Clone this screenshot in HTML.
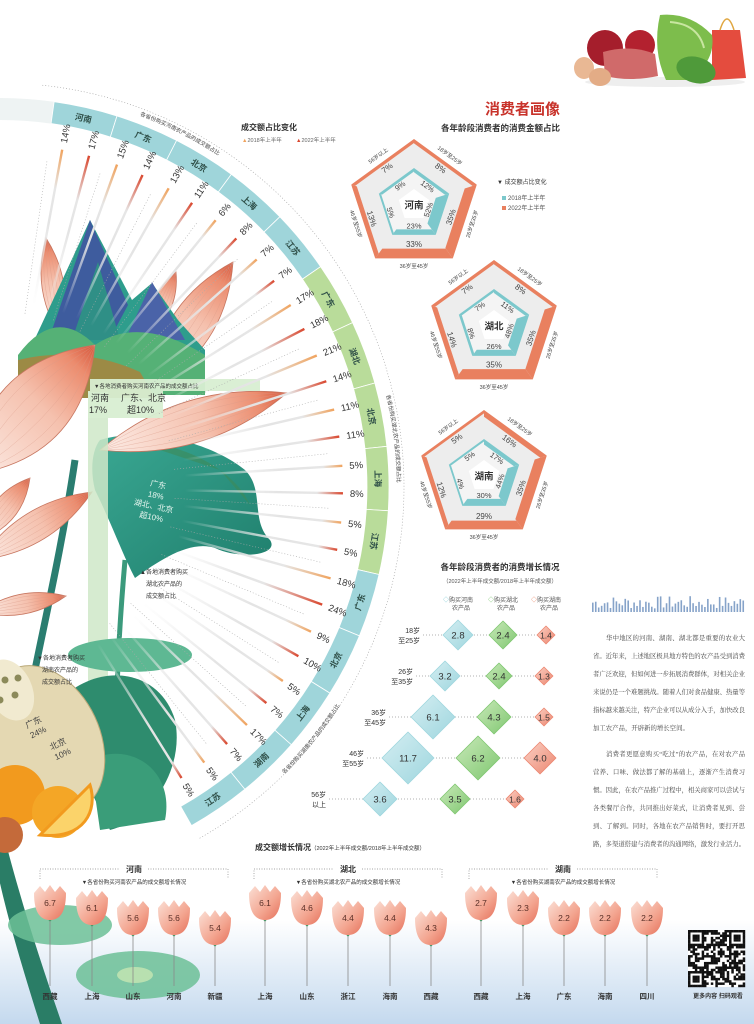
<!DOCTYPE html>
<html><head><meta charset="utf-8">
<style>
html,body{margin:0;padding:0;background:#fff;}
svg{display:block;font-family:"Liberation Sans","Noto Sans CJK SC",sans-serif;}
</style></head>
<body>
<svg id="s" width="754" height="1024" viewBox="0 0 754 1024" xmlns="http://www.w3.org/2000/svg">
<defs>
 <linearGradient id="bg" x1="0" y1="0" x2="0" y2="1"><stop offset="0" stop-color="#ffffff"/><stop offset="1" stop-color="#c4d9ee"/></linearGradient>
 <linearGradient id="tulip" x1="0" y1="0" x2="1" y2="1"><stop offset="0" stop-color="#fbe0d6"/><stop offset="0.6" stop-color="#f3a48f"/><stop offset="1" stop-color="#e5705a"/></linearGradient>
 <linearGradient id="leafg" x1="0" y1="0" x2="1" y2="1"><stop offset="0" stop-color="#3aa893"/><stop offset="1" stop-color="#1f7e6c"/></linearGradient>
</defs>
<rect x="0" y="920" width="754" height="104" fill="url(#bg)"/>
<g id="illus"></g>
<g id="arc"></g>
<g id="pent"></g>
<g id="dia"></g>
<g id="bottom"></g>

<text x="560" y="114" text-anchor="end" font-size="15" font-weight="bold" fill="#c8322a">消费者画像</text>
<text x="560" y="131" text-anchor="end" font-size="8.5" font-weight="bold" fill="#333">各年龄段消费者的消费金额占比</text>
<text x="497" y="184" font-size="6" fill="#333">▼ 成交额占比变化</text>
<rect x="502" y="196" width="4" height="4" fill="#7cc8cc"/><text x="508" y="200" font-size="6" fill="#555">2018年上半年</text>
<rect x="502" y="206" width="4" height="4" fill="#e9805f"/><text x="508" y="210" font-size="6" fill="#555">2022年上半年</text>

<text x="241" y="130" font-size="8" font-weight="bold" fill="#333">成交额占比变化</text>
<text x="242" y="142" font-size="5.5" fill="#666"><tspan fill="#f0a35e">▲</tspan>2018年上半年</text>
<text x="296" y="142" font-size="5.5" fill="#666"><tspan fill="#d9472e">▲</tspan>2022年上半年</text>

<text x="500" y="570" text-anchor="middle" font-size="8.5" font-weight="bold" fill="#333">各年龄段消费者的消费增长情况</text>
<text x="500" y="583" text-anchor="middle" font-size="5.5" fill="#555">（2022年上半年成交额/2018年上半年成交额）</text>
<g font-size="6" fill="#555" text-anchor="middle">
 <text x="458" y="602"><tspan fill="#7cc8d2">◇</tspan>购买河南</text><text x="461" y="610">农产品</text>
 <text x="503" y="602"><tspan fill="#6fbf62">◇</tspan>购买湖北</text><text x="506" y="610">农产品</text>
 <text x="546" y="602"><tspan fill="#e9805f">◇</tspan>购买湖南</text><text x="549" y="610">农产品</text>
</g>

<g font-family="Liberation Serif,'Noto Serif CJK SC',serif" font-size="6.4" fill="#444" lengthAdjust="spacing">
 <text x="606" y="640" textLength="139" lengthAdjust="spacing">华中地区的河南、湖南、湖北都是重要的农业大</text>
 <text x="593" y="658" textLength="152" lengthAdjust="spacing">省。近年来，上述地区极具地方特色的农产品受到消费</text>
 <text x="593" y="676" textLength="152" lengthAdjust="spacing">者广泛欢迎，但如何进一步拓展消费群体，对相关企业</text>
 <text x="593" y="694" textLength="152" lengthAdjust="spacing">来说仍是一个难题挑战。随着人们对食品健康、热量等</text>
 <text x="593" y="712" textLength="152" lengthAdjust="spacing">指标越来越关注，特产企业可以从成分入手，加快改良</text>
 <text x="593" y="730">加工农产品，开辟新的增长空间。</text>
 <text x="606" y="756" textLength="139" lengthAdjust="spacing">消费者更愿意购买“吃过”的农产品，在对农产品</text>
 <text x="593" y="774" textLength="152" lengthAdjust="spacing">营养、口味、做法都了解的基础上，逐渐产生消费习</text>
 <text x="593" y="792" textLength="152" lengthAdjust="spacing">惯。因此，在农产品推广过程中，相关商家可以尝试与</text>
 <text x="593" y="810" textLength="152" lengthAdjust="spacing">各类餐厅合作，共同推出好菜式，让消费者见到、尝</text>
 <text x="593" y="828" textLength="152" lengthAdjust="spacing">到、了解到。同时，各地在农产品销售时，要打开思</text>
 <text x="593" y="846" textLength="152" lengthAdjust="spacing">路，多渠道搭建与消费者的沟通网络，激发行业活力。</text>
</g>

<text x="255" y="850" font-size="8" font-weight="bold" fill="#333">成交额增长情况<tspan font-size="5.5" font-weight="normal">（2022年上半年成交额/2018年上半年成交额）</tspan></text>
<text x="718" y="998" text-anchor="middle" font-size="6" font-weight="bold" fill="#333">更多内容 扫码观看</text>

<g font-size="6" fill="#333">
 <text x="140" y="574">▲各地消费者购买</text><text x="146" y="586">湖北农产品的</text><text x="146" y="598">成交额占比</text>
 <text x="37" y="660">▼各地消费者购买</text><text x="42" y="672">湖南农产品的</text><text x="42" y="684">成交额占比</text>
</g>
</svg>
<script>
const NS='http://www.w3.org/2000/svg';
function el(tag,attrs,parent,text){const e=document.createElementNS(NS,tag);for(const k in attrs)e.setAttribute(k,attrs[k]);if(text!=null)e.textContent=text;(parent||document.getElementById('s')).appendChild(e);return e;}
const defs=document.querySelector('defs');
let gid=0;
function lgrad(x1,y1,x2,y2,stops){const id='g'+(gid++);const g=el('linearGradient',{id:id,gradientUnits:'userSpaceOnUse',x1:x1,y1:y1,x2:x2,y2:y2},defs);stops.forEach(s=>el('stop',{offset:s[0],'stop-color':s[1],'stop-opacity':s[2]==null?1:s[2]},g));return 'url(#'+id+')';}
const rad=d=>d*Math.PI/180;

const IL=document.getElementById('illus');
function petal(bx,by,tx,ty,w,p){
 const mx=(bx+tx)/2,my=(by+ty)/2,dx=tx-bx,dy=ty-by,L=Math.hypot(dx,dy),nx=-dy/L,ny=dx/L;
 const c1x=mx+nx*w,c1y=my+ny*w,c2x=mx-nx*w,c2y=my-ny*w;
 const f=lgrad(bx,by,tx,ty,[[0,'#fcece6'],[0.55,'#f5c1ae'],[0.85,'#ec8c6e'],[1,'#d6553a']]);
 el('path',{d:`M${bx},${by} Q${c1x},${c1y} ${tx},${ty} Q${c2x},${c2y} ${bx},${by}Z`,fill:f,stroke:'#c77660','stroke-width':0.8},p||IL);
 for(let k=-2;k<=2;k++){el('path',{d:`M${bx},${by} Q${mx+nx*w*k*0.35},${my+ny*w*k*0.35} ${tx},${ty}`,fill:'none',stroke:'#d99a88','stroke-width':0.4,opacity:0.7},p||IL);}
}
petal(60,335,46,238,22);
petal(150,335,176,272,18);
petal(150,390,233,262,42);
el('path',{d:'M25,360 L60,285 L90,220 L112,262 L132,300 L152,283 L178,320 L205,350 L205,390 L25,390Z',fill:'#2e9d8c'},IL);
el('path',{d:'M52,330 L90,220 L128,305 L112,335Z',fill:'#3e5c9e'},IL);
el('path',{d:'M72,340 L98,262 L120,340Z',fill:'#2f8f86'},IL);
el('path',{d:'M125,340 L152,282 L185,340Z',fill:'#4a63a8'},IL);
el('path',{d:'M18,355 Q55,305 95,345 Q140,315 205,355 L205,395 L18,395Z',fill:'#55b176'},IL);
el('path',{d:'M18,360 Q80,345 140,372 L155,398 L18,398Z',fill:'#9c8a45'},IL);
el('path',{d:'M75,460 C60,560 40,640 25,720',fill:'none',stroke:'#2a7d70','stroke-width':7},IL);
el('path',{d:'M125,560 C118,640 114,720 118,800',fill:'none',stroke:'#3b9a7c','stroke-width':5},IL);
el('path',{d:'M0,820 C20,900 40,960 62,1024 L40,1024 C20,960 5,910 -5,860Z',fill:'#2a7d66'},IL);
el('path',{d:'M100,440 C150,425 215,445 245,470 C265,490 250,520 270,540 C280,555 240,560 215,548 C190,540 160,560 135,578 C125,560 110,520 95,490 C90,470 92,450 100,440Z',fill:'url(#leafg)'},IL);
el('path',{d:'M130,440 C200,445 240,480 250,505 L220,470Z',fill:'#3d8a58',opacity:0.6},IL);
petal(-30,475,95,345,70);
petal(100,450,287,393,42);
petal(-20,560,92,492,30);
petal(-20,540,30,478,24);
petal(-20,612,66,596,20);
el('rect',{x:88,y:392,width:20,height:330,fill:'#cfe8c8',opacity:0.85},IL);
el('rect',{x:90,y:379,width:170,height:12,fill:'#d8eed2',opacity:0.95},IL);
el('rect',{x:88,y:391,width:75,height:27,fill:'#d8eed2',opacity:0.95},IL);
el('text',{x:94,y:388,'font-size':5.5,fill:'#333'},IL,'▼各地消费者购买河南农产品的成交额占比');
el('text',{x:91,y:401,'font-size':9,fill:'#333'},IL,'河南');
el('text',{x:89,y:413,'font-size':9,fill:'#333'},IL,'17%');
el('text',{x:121,y:401,'font-size':9,fill:'#333'},IL,'广东、北京');
el('text',{x:127,y:413,'font-size':9,fill:'#333'},IL,'超10%');
const lt=el('g',{transform:'rotate(12 160 500)','font-size':8,fill:'#e8f6f0','text-anchor':'middle'},IL);
el('text',{x:155,y:488},lt,'广东');el('text',{x:155,y:499},lt,'18%');el('text',{x:155,y:510},lt,'湖北、北京');el('text',{x:155,y:521},lt,'超10%');
el('ellipse',{cx:130,cy:655,rx:62,ry:17,fill:'#5eb893'},IL);
el('path',{d:'M60,700 C100,660 160,670 175,720 C185,770 150,820 110,830 C90,790 70,750 60,700Z',fill:'#2e8c6e'},IL);
el('path',{d:'M90,760 C130,740 175,770 165,820 L100,830Z',fill:'#3a9d79'},IL);
el('ellipse',{cx:45,cy:740,rx:55,ry:78,transform:'rotate(-25 45 740)',fill:'#e4d8b2',stroke:'#b9a878','stroke-width':1},IL);
el('ellipse',{cx:10,cy:690,rx:22,ry:32,transform:'rotate(-25 10 690)',fill:'#f1ead0'},IL);
[[5,680],[15,695],[0,700],[18,678]].forEach(p=>el('circle',{cx:p[0],cy:p[1],r:3.5,fill:'#8c8a5a'},IL));
const rt=el('g',{transform:'rotate(-25 45 740)','font-size':8.5,fill:'#444','text-anchor':'middle'},IL);
el('text',{x:42,y:722},rt,'广东');el('text',{x:42,y:733},rt,'24%');el('text',{x:55,y:752},rt,'北京');el('text',{x:55,y:763},rt,'10%');
el('circle',{cx:15,cy:795,r:30,fill:'#f29a1e'},IL);
el('circle',{cx:58,cy:812,r:26,fill:'#f4a626'},IL);
el('path',{d:'M40,835 L90,785 C98,810 85,840 40,835Z',fill:'#fbd36a',stroke:'#f29a1e','stroke-width':3},IL);
el('circle',{cx:5,cy:835,r:18,fill:'#c46a3a'},IL);
el('ellipse',{cx:60,cy:925,rx:52,ry:20,fill:'#6cbf96',opacity:0.85},IL);
el('ellipse',{cx:138,cy:975,rx:62,ry:24,fill:'#6cbf96',opacity:0.85},IL);
el('ellipse',{cx:135,cy:975,rx:18,ry:8,fill:'#b8e0b0'},IL);

const AR=document.getElementById('arc');
const CX=0,CY=487,R1=367,R2=389;
const P=(r,a)=>[CX+r*Math.cos(rad(a)),CY+r*Math.sin(rad(a))];
const segs=[['河南',14,17],['广东',15,14],['北京',13,11],['上海',6,8],['江苏',7,7],
['广东',17,18],['湖北',21,14],['北京',11,11],['上海',5,8],['江苏',5,5],
['广东',18,24],['北京',9,10],['上海',5,7],['湖南',17,7],['江苏',5,5]];
const A0=-82,ST=9.5;
function arcPath(r1,r2,a1,a2){const p1=P(r2,a1),p2=P(r2,a2),p3=P(r1,a2),p4=P(r1,a1);return `M${p1} A${r2},${r2} 0 0 1 ${p2} L${p3} A${r1},${r1} 0 0 0 ${p4}Z`;}
el('path',{d:`M${P(404,A0-2)} A404,404 0 0 1 ${P(404,A0+15*ST)}`,fill:'none',stroke:'#999','stroke-width':0.6,'stroke-dasharray':'1 2'},AR);
el('path',{d:arcPath(R1,R2,-95,A0),fill:'#eef3f3'},AR);
segs.forEach((s,i)=>{
 const a1=A0+i*ST,a2=a1+ST,ac=a1+ST/2;
 const col=(i>=5&&i<10)?'#b9dc9a':'#9fd5da';
 el('path',{d:arcPath(R1,R2,a1,a2),fill:col,stroke:'#fff','stroke-width':0.8},AR);
 const lp=P(378,ac);const rot=ac<15?ac+90:ac-90;
 el('text',{x:lp[0],y:lp[1]+3,'text-anchor':'middle','font-size':8.5,'font-weight':'bold',fill:'#2f4f48',transform:`rotate(${rot} ${lp[0]} ${lp[1]})`},AR,s[0]);
 const d1=P(175,a1+0.2),d2=P(330,a1+0.2);
 el('line',{x1:d1[0],y1:d1[1],x2:d2[0],y2:d2[1],stroke:'#aaa','stroke-width':0.6,'stroke-dasharray':'1 2'},AR);
 [[s[1],'#f0a35e',-2.3],[s[2],'#d9472e',2.3]].forEach(b=>{
  const a=ac+b[2];const q1=P(185,a),q2=P(343,a);
  const frac=1-(0.05+b[0]/70);
  const g=lgrad(q1[0],q1[1],q2[0],q2[1],[[0,'#eeeeee',0],[frac*0.7,'#e4e4e4',1],[frac,'#e6e6e6',1],[1,b[1],1]]);
  el('line',{x1:q1[0],y1:q1[1],x2:q2[0],y2:q2[1],stroke:g,'stroke-width':2.4},AR);
  const t=P(350,a);
  el('text',{x:t[0],y:t[1],'font-size':9.5,fill:'#333',transform:`rotate(${a} ${t[0]} ${t[1]}) translate(0 3.5)`},AR,b[0]+'%');
 });
});
function ctext(a1,a2,r,txt,ccw){
 const id='cp'+(gid++);
 const p1=P(r,ccw?a2:a1),p2=P(r,ccw?a1:a2);
 el('path',{id:id,d:`M${p1} A${r},${r} 0 0 ${ccw?0:1} ${p2}`,fill:'none'},defs);
 const t=el('text',{'font-size':5.5,fill:'#444'},AR);
 el('textPath',{href:'#'+id,startOffset:'50%','text-anchor':'middle'},t,txt);
}
ctext(-76,-50,397,'各省份购买河南农产品的成交额占比',false);
ctext(-24,10,397,'各省份购买湖北农产品的成交额占比',false);
ctext(22,56,404,'各省份购买湖南农产品的成交额占比',true);

const PG=document.getElementById('pent');
function pent(cx,cy,name,outer,inner){
 const V=(R,i)=>{const a=rad(-90+72*i);return [cx+R*Math.cos(a),cy+R*Math.sin(a)];};
 const poly=R=>[0,1,2,3,4].map(i=>V(R,i).join(',')).join(' ');
 const RO=66,RI=37;
 el('polygon',{points:poly(RO),fill:'#ededed'},PG);
 outer.forEach((v,k)=>{const w=1.5+v*0.25;const s=(RO-w/0.809)/RO;
  const a=V(RO,k),b=V(RO,k+1),c=V(RO*s,k+1),d=V(RO*s,k);
  el('polygon',{points:[a,b,c,d].map(p=>p.join(',')).join(' '),fill:'#e9805f'},PG);});
 el('polygon',{points:poly(RI),fill:'#f4f4f4'},PG);
 inner.forEach((v,k)=>{const w=1+v*0.2;const s=(RI-w/0.809)/RI;
  const a=V(RI,k),b=V(RI,k+1),c=V(RI*s,k+1),d=V(RI*s,k);
  el('polygon',{points:[a,b,c,d].map(p=>p.join(',')).join(' '),fill:'#7cc8cc'},PG);});
 el('polygon',{points:poly(16),fill:'#fff'},PG);
 const ang=[-54,18,90,162,234],rots=[36,-72,0,72,-36],ages=['18岁至25岁','26岁至35岁','36岁至45岁','46岁至55岁','56岁以上'];
 for(let k=0;k<5;k++){
  const a=rad(ang[k]);
  const put=(d,txt,fs,col)=>{const x=cx+d*Math.cos(a),y=cy+d*Math.sin(a);el('text',{x:x,y:y+fs*0.35,'text-anchor':'middle','font-size':fs,fill:col,transform:`rotate(${rots[k]} ${x} ${y})`},PG,txt);};
  put(53-(1.5+outer[k]*0.25)-4,outer[k]+'%',8,'#444');
  put(30-(1+inner[k]*0.2)-3.5,inner[k]+'%',7.5,'#444');
  put(61,ages[k],5.5,'#444');
 }
 el('text',{x:cx,y:cy+3.5,'text-anchor':'middle','font-size':9.5,'font-weight':'bold',fill:'#333'},PG,name);
}
pent(414,205,'河南',[8,35,33,13,7],[12,52,23,5,9]);
pent(494,326,'湖北',[8,35,35,14,7],[11,48,26,8,7]);
pent(484,476,'湖南',[16,35,29,12,5],[17,44,30,4,5]);

const DG=document.getElementById('dia');
const rows=[
 {y:635,lab:['18岁','至25岁'],lx:420,d:[[458,15,'2.8'],[503,14,'2.4'],[546,9,'1.4']]},
 {y:676,lab:['26岁','至35岁'],lx:413,d:[[445,15,'3.2'],[499,13,'2.4'],[544,9,'1.3']]},
 {y:717,lab:['36岁','至45岁'],lx:386,d:[[433,22,'6.1'],[494,17,'4.3'],[544,9,'1.5']]},
 {y:758,lab:['46岁','至55岁'],lx:364,d:[[408,26,'11.7'],[478,22,'6.2'],[540,16,'4.0']]},
 {y:799,lab:['56岁','以上'],lx:326,d:[[380,17,'3.6'],[455,15,'3.5'],[515,9,'1.6']]}];
const dcol=[['#d5eef2','#9ed6de'],['#c9e9b9','#7fc770'],['#fbd2c6','#ec8670']];
rows.forEach(r=>{
 el('text',{x:r.lx,y:r.y-2,'text-anchor':'end','font-size':7,fill:'#333'},DG,r.lab[0]);
 el('text',{x:r.lx,y:r.y+8,'text-anchor':'end','font-size':7,fill:'#333'},DG,r.lab[1]);
 el('line',{x1:r.lx+3,y1:r.y,x2:r.d[2][0],y2:r.y,stroke:'#999','stroke-width':0.7,'stroke-dasharray':'1 2'},DG);
 r.d.forEach((d,j)=>{const [x,h,v]=d;
  const f=lgrad(x-h,r.y-h,x+h,r.y+h,[[0,dcol[j][0]],[1,dcol[j][1]]]);
  el('path',{d:`M${x},${r.y-h} L${x+h},${r.y} L${x},${r.y+h} L${x-h},${r.y}Z`,fill:f,stroke:dcol[j][1],'stroke-width':0.8,'stroke-linejoin':'round'},DG);
  el('text',{x:x,y:r.y+3.5,'text-anchor':'middle','font-size':h>12?9.5:8.5,fill:'#333'},DG,v);
 });
});

let seed=7;const rnd=()=>{seed=(seed*9301+49297)%233280;return seed/233280;};
for(let i=0;i<52;i++){const h=3+rnd()*13;el('rect',{x:592+i*2.95,y:612-h,width:1.6,height:h,fill:'#86a3c9'});}

const BG=document.getElementById('bottom');
const groups=[['河南',134,[[50,903,'6.7','西藏'],[92,908,'6.1','上海'],[133,918,'5.6','山东'],[174,918,'5.6','河南'],[215,928,'5.4','新疆']],'▼各省份购买河南农产品的成交额增长情况'],
['湖北',348,[[265,903,'6.1','上海'],[307,908,'4.6','山东'],[348,918,'4.4','浙江'],[390,918,'4.4','海南'],[431,928,'4.3','西藏']],'▼各省份购买湖北农产品的成交额增长情况'],
['湖南',563,[[481,903,'2.7','西藏'],[523,908,'2.3','上海'],[564,918,'2.2','广东'],[605,918,'2.2','海南'],[647,918,'2.2','四川']],'▼各省份购买湖南农产品的成交额增长情况']];
groups.forEach(g=>{
 const xc=g[1],x1=xc-94,x2=xc+94;
 el('path',{d:`M${x1},879 L${x1},869 L${xc-14},869 M${xc+14},869 L${x2},869 L${x2},879`,fill:'none',stroke:'#888','stroke-width':0.7,'stroke-dasharray':'1 1.5'},BG);
 el('text',{x:xc,y:872,'text-anchor':'middle','font-size':8,'font-weight':'bold',fill:'#333'},BG,g[0]);
 el('text',{x:xc,y:884,'text-anchor':'middle','font-size':5.5,fill:'#333'},BG,g[3]);
 g[2].forEach(t=>{const [x,cy,v,lab]=t;
  el('line',{x1:x,y1:cy+16,x2:x,y2:986,stroke:'#8a8a8a','stroke-width':0.8},BG);
  el('circle',{cx:x,cy:cy+17,r:1.3,fill:'#4f9a6a'},BG);
  el('path',{d:`M${x-16},${cy-10} C${x-16},${cy+12} ${x-8},${cy+17} ${x},${cy+17} C${x+8},${cy+17} ${x+16},${cy+12} ${x+16},${cy-10} L${x+10},${cy-17} L${x+5},${cy-11} L${x},${cy-18} L${x-5},${cy-11} L${x-10},${cy-17}Z`,fill:'url(#tulip)'},BG);
  el('text',{x:x,y:cy+3,'text-anchor':'middle','font-size':8.5,fill:'#5a3028'},BG,v);
  el('text',{x:x,y:999,'text-anchor':'middle','font-size':7.5,'font-weight':'bold',fill:'#333'},BG,lab);
 });
});

const QX=688,QY=930,N=25,cs=57/N;
el('rect',{x:QX,y:QY,width:57,height:57,fill:'#fff'});
for(let r=0;r<N;r++)for(let c=0;c<N;c++){
 const fin=(r<7&&c<7)||(r<7&&c>=N-7)||(r>=N-7&&c<7);
 let on;
 if(fin){const rr=r<7?r:r-(N-7),cc=c<7?c:c-(N-7);on=(rr==0||rr==6||cc==0||cc==6)||(rr>=2&&rr<=4&&cc>=2&&cc<=4);}
 else on=rnd()<0.5;
 if(on)el('rect',{x:QX+c*cs,y:QY+r*cs,width:cs+0.2,height:cs+0.2,fill:'#111'});
}

el('ellipse',{cx:665,cy:82,rx:80,ry:5,fill:'#eee'});
el('circle',{cx:605,cy:48,r:18,fill:'#a51e2c'});
el('circle',{cx:640,cy:45,r:15,fill:'#b3212f'});
el('path',{d:'M603,52 Q630,44 655,54 L658,76 Q630,82 605,76Z',fill:'#d06a6a'});
el('ellipse',{cx:584,cy:68,rx:10,ry:11,fill:'#e9b894'});
el('ellipse',{cx:600,cy:77,rx:11,ry:9,fill:'#e3ac86'});
el('path',{d:'M712,30 L740,30 L746,78 L712,80Z',fill:'#e44c3e'});
el('path',{d:'M720,30 Q727,8 734,30',fill:'none',stroke:'#e0a640','stroke-width':1.5});
el('path',{d:'M660,15 Q690,12 712,35 Q716,60 690,80 L666,80 Q652,50 660,15Z',fill:'#7dbd4c'});
el('path',{d:'M670,22 Q698,24 704,48',fill:'none',stroke:'#c8e6a0','stroke-width':2});
el('ellipse',{cx:696,cy:70,rx:20,ry:13,fill:'#4f9a3a',transform:'rotate(15 696 70)'});
</script>
</body></html>
